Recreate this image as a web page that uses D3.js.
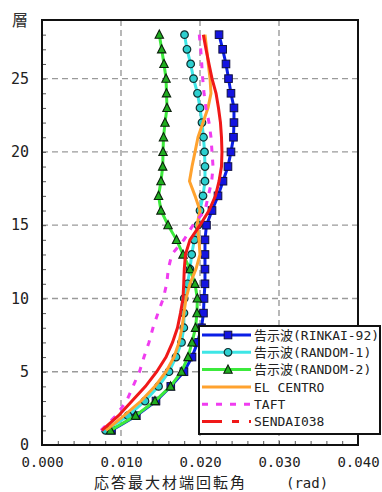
<!DOCTYPE html>
<html>
<head>
<meta charset="utf-8">
<script src="https://cdn.jsdelivr.net/npm/d3@7"></script>
<style>
  body { margin: 0; background: #fff; }
  svg { display: block; }
</style>
</head>
<body>
<div id="chart"></div>
<script>
////////////////////////////////////////////////////////////////////////
// Data: max member-end rotation per floor (1..28)

let floors = d3.range(1, 29);

let rinkai92 = [0.00880, 0.01194, 0.01443, 0.01630, 0.01797, 0.01899, 0.01968,
  0.02019, 0.02044, 0.02051, 0.02063, 0.02063, 0.02063, 0.02063, 0.02082,
  0.02152, 0.02228, 0.02291, 0.02354, 0.02392, 0.02424, 0.02430, 0.02430,
  0.02392, 0.02361, 0.02329, 0.02287, 0.02241];

let random1 = [0.00804, 0.01089, 0.01304, 0.01475, 0.01608, 0.01696, 0.01766,
  0.01795, 0.01797, 0.01800, 0.01842, 0.01873, 0.01895, 0.01928, 0.01975,
  0.02000, 0.02038, 0.02063, 0.02063, 0.02057, 0.02044, 0.02025, 0.02000,
  0.01968, 0.01918, 0.01882, 0.01835, 0.01804];

let random2 = [0.00867, 0.01184, 0.01430, 0.01627, 0.01766, 0.01848, 0.01899,
  0.01943, 0.01962, 0.01966, 0.01937, 0.01873, 0.01785, 0.01703, 0.01595,
  0.01506, 0.01475, 0.01506, 0.01528, 0.01532, 0.01538, 0.01557, 0.01582,
  0.01576, 0.01570, 0.01544, 0.01515, 0.01485];

let elCentro = [0.00810, 0.01038, 0.01253, 0.01430, 0.01570, 0.01671, 0.01734,
  0.01772, 0.01797, 0.01823, 0.01873, 0.01949, 0.02000, 0.01987, 0.01962,
  0.02000, 0.01937, 0.01867, 0.01899, 0.01937, 0.01975, 0.02038, 0.02101,
  0.02139, 0.02127, 0.02105, 0.02085, 0.02063];

let taft = [0.00747, 0.00937, 0.01070, 0.01152, 0.01234, 0.01291, 0.01354,
  0.01405, 0.01468, 0.01535, 0.01578, 0.01599, 0.01642, 0.01797, 0.01911,
  0.02063, 0.02105, 0.02148, 0.02165, 0.02152, 0.02139, 0.02114, 0.02076,
  0.02051, 0.02034, 0.02022, 0.02009, 0.01991];

let sendai038 = [0.00759, 0.00968, 0.01139, 0.01310, 0.01452, 0.01570, 0.01652,
  0.01715, 0.01753, 0.01785, 0.01794, 0.01801, 0.01816, 0.01873, 0.02000,
  0.02114, 0.02196, 0.02241, 0.02272, 0.02278, 0.02272, 0.02259, 0.02234,
  0.02203, 0.02152, 0.02114, 0.02076, 0.02042];

let seriesNames = ["告示波(RINKAI-92)", "告示波(RANDOM-1)", "告示波(RANDOM-2)",
  "EL CENTRO", "TAFT", "SENDAI038"];

let xTicks = [0, 0.01, 0.02, 0.03, 0.04];
let yTicks = [0, 5, 10, 15, 20, 25];

////////////////////////////////////////////////////////////////////////
// Look of each series (kept apart from the values)

let styles = [
  {values: rinkai92, line: "#0a1ee6", fill: "#1414e0", marker: "square", dash: null},
  {values: random1, line: "#3ee6e6", fill: "#2ccfcf", marker: "circle", dash: null},
  {values: random2, line: "#3cea3c", fill: "#1fae1f", marker: "triangle", dash: null},
  {values: elCentro, line: "#ffa22e", marker: null, dash: null},
  {values: taft, line: "#f03cf0", marker: null, dash: "6,8"},
  {values: sendai038, line: "#f01818", marker: null, dash: null, legendDash: "20,10,7,10"}
];

let width = 382;
let height = 492;
let plotLeft = 42, plotRight = 358, plotTop = 20, plotBottom = 445;

let xScale = d3.scaleLinear().domain([0, 0.04]).range([plotLeft, plotRight]);
let yScale = d3.scaleLinear().domain([0, 29]).range([plotBottom, plotTop]);

let svg = d3.select("#chart")
  .append("svg")
  .attr("width", width).attr("height", height);

svg.append("rect")
  .attr("width", width).attr("height", height)
  .attr("fill", "#fff");

// grid lines
svg.append("g")
  .selectAll("line")
  .data(xTicks.slice(1, -1))
  .enter()
  .append("line")
  .attr("x1", d => xScale(d)).attr("x2", d => xScale(d))
  .attr("y1", plotTop).attr("y2", plotBottom)
  .attr("stroke", "#9a9a9a")
  .attr("stroke-width", 1.4)
  .attr("stroke-dasharray", "6,4");

svg.append("g")
  .selectAll("line")
  .data(yTicks.slice(1))
  .enter()
  .append("line")
  .attr("x1", plotLeft).attr("x2", plotRight)
  .attr("y1", d => yScale(d)).attr("y2", d => yScale(d))
  .attr("stroke", "#9a9a9a")
  .attr("stroke-width", 1.4)
  .attr("stroke-dasharray", "6,4");

// minor ticks pointing inward
let xMinor = d3.axisBottom(xScale)
  .tickValues(d3.range(0, 0.0401, 0.002))
  .tickSizeInner(-4).tickSizeOuter(0)
  .tickFormat("");
svg.append("g")
  .attr("transform", `translate(0, ${plotBottom})`)
  .call(xMinor)
  .call(g => g.select(".domain").remove())
  .selectAll("line").attr("stroke", "#555");

let yMinor = d3.axisLeft(yScale)
  .tickValues(d3.range(1, 29))
  .tickSizeInner(-4).tickSizeOuter(0)
  .tickFormat("");
svg.append("g")
  .attr("transform", `translate(${plotLeft}, 0)`)
  .call(yMinor)
  .call(g => g.select(".domain").remove())
  .selectAll("line").attr("stroke", "#555");

// tick labels
let xAxis = d3.axisBottom(xScale)
  .tickValues(xTicks)
  .tickSize(0)
  .tickPadding(12)
  .tickFormat(d3.format(".3f"));
svg.append("g")
  .attr("transform", `translate(0, ${plotBottom})`)
  .call(xAxis)
  .call(g => g.select(".domain").remove())
  .selectAll("text")
  .attr("font-family", "'DejaVu Sans Mono', monospace")
  .attr("font-size", 14)
  .attr("fill", "#222");

let yAxis = d3.axisLeft(yScale)
  .tickValues(yTicks)
  .tickSize(0)
  .tickPadding(13);
svg.append("g")
  .attr("transform", `translate(${plotLeft}, 0)`)
  .call(yAxis)
  .call(g => g.select(".domain").remove())
  .selectAll("text")
  .attr("font-family", "'DejaVu Sans Mono', monospace")
  .attr("font-size", 15)
  .attr("fill", "#222");

// frame
svg.append("rect")
  .attr("x", plotLeft).attr("y", plotTop)
  .attr("width", plotRight - plotLeft).attr("height", plotBottom - plotTop)
  .attr("fill", "none")
  .attr("stroke", "#111")
  .attr("stroke-width", 2);

// markers
function drawMarker(sel, type, fill) {
  if (type === "square") {
    sel.append("rect")
      .attr("x", -3.8).attr("y", -3.8)
      .attr("width", 7.6).attr("height", 7.6)
      .attr("fill", fill).attr("stroke", "#101040").attr("stroke-width", 1);
  } else if (type === "circle") {
    sel.append("circle")
      .attr("r", 3.8)
      .attr("fill", fill).attr("stroke", "#103030").attr("stroke-width", 1.2);
  } else if (type === "triangle") {
    sel.append("path")
      .attr("d", "M0,-4.6L4.2,3.6L-4.2,3.6Z")
      .attr("fill", fill).attr("stroke", "#0c200c").attr("stroke-width", 1.1);
  }
}

// series lines and markers
let line = d3.line()
  .x(d => xScale(d[0]))
  .y(d => yScale(d[1]));

styles.forEach(s => {
  let pts = floors.map((f, i) => [s.values[i], f]);
  svg.append("path")
    .datum(pts)
    .attr("d", line)
    .attr("fill", "none")
    .attr("stroke", s.line)
    .attr("stroke-width", 3)
    .attr("stroke-dasharray", s.dash);

  if (s.marker) {
    svg.append("g")
      .selectAll("g")
      .data(pts)
      .enter()
      .append("g")
      .attr("transform", d => `translate(${xScale(d[0])}, ${yScale(d[1])})`)
      .each(function() { drawMarker(d3.select(this), s.marker, s.fill); });
  }
});

// legend
let legend = svg.append("g");
legend.append("rect")
  .attr("x", 199).attr("y", 326)
  .attr("width", 181).attr("height", 108)
  .attr("fill", "#fff")
  .attr("stroke", "#111")
  .attr("stroke-width", 2);

styles.forEach((s, i) => {
  let y = 335 + i * 17.3;
  legend.append("line")
    .attr("x1", 202).attr("x2", 251)
    .attr("y1", y).attr("y2", y)
    .attr("stroke", s.line)
    .attr("stroke-width", 3)
    .attr("stroke-dasharray", s.legendDash || s.dash);
  if (s.marker) {
    let g = legend.append("g").attr("transform", `translate(228, ${y})`);
    drawMarker(g, s.marker, s.fill);
  }
  legend.append("text")
    .attr("x", 254).attr("y", y + 4.6)
    .attr("font-family", "'DejaVu Sans Mono', 'Noto Sans CJK JP', monospace")
    .attr("font-size", 13)
    .attr("fill", "#222")
    .text(seriesNames[i]);
});

// axis titles
svg.append("text")
  .attr("x", 20).attr("y", 26)
  .attr("text-anchor", "middle")
  .attr("font-family", "'Noto Sans CJK JP', sans-serif")
  .attr("font-size", 16)
  .attr("fill", "#333")
  .text("層");

let xTitle = svg.append("text")
  .attr("y", 488)
  .attr("font-family", "'Noto Sans CJK JP', sans-serif")
  .attr("font-size", 15)
  .attr("fill", "#222");
xTitle.append("tspan").attr("x", 94)
  .attr("letter-spacing", 2)
  .text("応答最大材端回転角");
xTitle.append("tspan").attr("x", 286)
  .attr("font-family", "'DejaVu Sans Mono', monospace")
  .attr("font-size", 14)
  .text("(rad)");
</script>
</body>
</html>
